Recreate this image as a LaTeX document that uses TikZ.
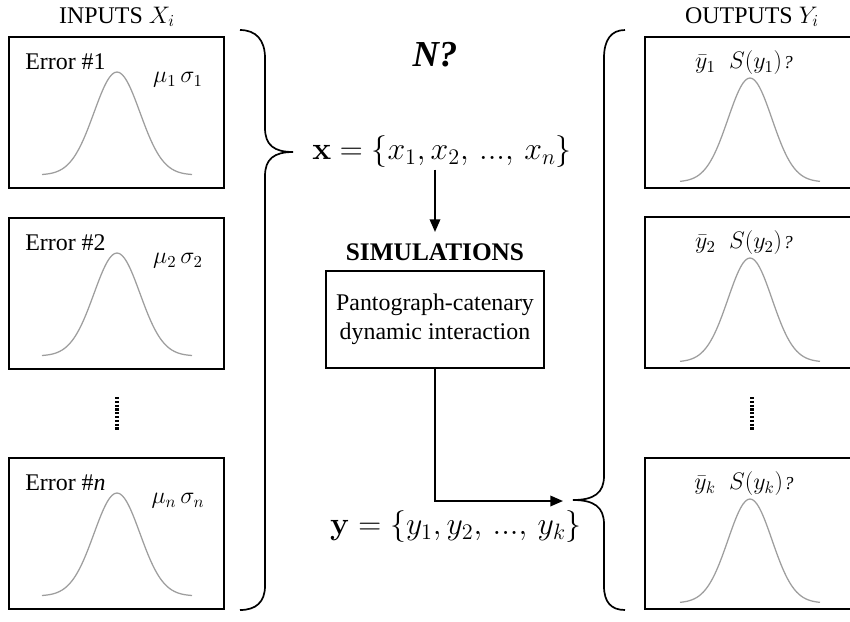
\RequirePackage{fix-cm}
\documentclass[tikz,border=0pt]{standalone}
\usepackage[no-math]{fontspec}
\setmainfont{Liberation Serif}
\usepackage{amsmath}
\usetikzlibrary{arrows.meta, positioning, calc}
\definecolor{bellgray}{HTML}{9E9E9E}
\tikzset{
  >={Triangle[length=9pt,width=7.5pt]},
  lbl/.style={font=\fontsize{17}{20}\selectfont, inner sep=0pt},
  mathlbl/.style={font=\fontsize{22.6}{27}\selectfont, inner sep=1pt},
  distbox/.style={
    draw, line width=1.3pt, inner sep=0pt,
    minimum width=#1, minimum height=3.77cm
  },
  distbox/.default=5.375cm,
  simbox/.style={
    draw, line width=1.2pt, align=center, inner sep=0pt,
    minimum width=5.45cm, minimum height=2.42cm,
    font=\fontsize{17}{21}\selectfont
  },
  bell/.style={draw=bellgray, line width=0.9pt, smooth},
  bracel/.style={line width=1.2pt},
  vdots/.style={line width=2.4pt, dash pattern=on 1.6pt off 1.1pt},
  arr/.style={->, line width=1.2pt}
}

\begin{document}
\begin{tikzpicture}[x=0.025cm, y=-0.025cm]
  \useasboundingbox (0,0) rectangle (850,621);

  % inputs
  \node[lbl] (intitle) at (117,17) {INPUTS $X_i$};
  \foreach \nm/\yt/\lab in {1/37/1, 2/218/2, n/458/\textit{n}} {
    \node[distbox] (in\nm) at ({116.5},{\yt+75.5}) {};
    \node[lbl, anchor=west] (err\nm) at (25,{\yt+25}) {Error \#\lab};
    \node[lbl] (par\nm) at (178,{\yt+43}) {$\mu_\nm\,\sigma_\nm$};
    \draw[bell] plot[domain=-75:75, samples=61]
      ({117+\x},{\yt+138-103*exp(-\x*\x/1058)});
  }
  \draw[vdots] (117,397) -- (117,431);

  % outputs
  \node[lbl] (outtitle) at (752,17) {OUTPUTS $Y_i$};
  \foreach \nm/\yt in {1/37, 2/217, k/458} {
    \node[distbox=5.5cm] (out\nm) at ({755},{\yt+75.5}) {};
    \node[lbl] (stat\nm) at (744,{\yt+26})
      {$\bar{y}_\nm\;\;S(y_\nm)$\hspace{1pt}{\fontsize{13}{15}\selectfont\textit{?}}};
    \draw[bell] plot[domain=-70:70, samples=61]
      ({750+\x},{\yt+145-104*exp(-\x*\x/968)});
  }
  \draw[vdots] (752,397) -- (752,431);

  % braces
  \draw[bracel] (240,30) .. controls (256,30) and (265,40) .. (265,58)
    -- (265,128) .. controls (265,145) and (274,152) .. (293,152)
    .. controls (274,152) and (265,159) .. (265,176)
    -- (265,586) .. controls (265,602) and (256,610) .. (240,610);
  \draw[bracel] (625,30) .. controls (611,30) and (604,40) .. (604,58)
    -- (604,476) .. controls (604,493) and (594,500) .. (573,500)
    .. controls (594,500) and (604,507) .. (604,524)
    -- (604,586) .. controls (604,602) and (611,610) .. (625,610);

  % middle
  \node[font=\fontsize{26}{30}\selectfont\bfseries\itshape] (nq) at (435,55) {N?};
  \node[mathlbl] (xset) at (442,152) {$\mathbf{x}=\{x_1,x_2,\,...,\,x_n\}$};
  \node[lbl, font=\fontsize{18}{21}\selectfont\bfseries] (simlbl) at (435,252) {SIMULATIONS};
  \node[simbox] (sim) at (435,319.5) {Pantograph-catenary\\dynamic interaction};
  \node[mathlbl] (yset) at (456,527) {$\mathbf{y}=\{y_1,y_2,\,...,\,y_k\}$};
  \coordinate (ytip) at (563,501);

  \draw[arr] (xset.south -| simlbl.north) -- ([yshift=8pt]simlbl.north);
  \draw[arr] (sim.south) |- (ytip);
\end{tikzpicture}
\end{document}
